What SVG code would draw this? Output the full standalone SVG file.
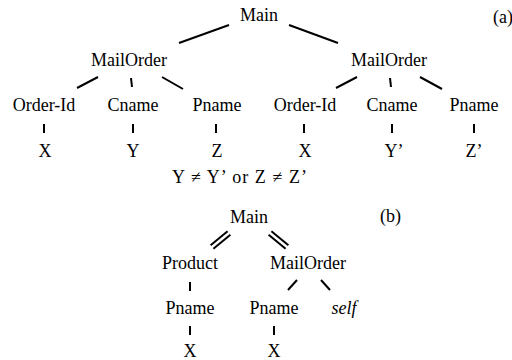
<svg xmlns="http://www.w3.org/2000/svg" width="512" height="360" viewBox="0 0 512 360">
<style>
text{font-family:'Liberation Serif','Times New Roman',Times,'DejaVu Serif',serif;font-size:18px;fill:#000;text-anchor:middle}
.l{text-anchor:start}
.it{font-style:italic}
#connectors line{stroke:#000;stroke-width:2;stroke-linecap:butt}
</style>
<rect width="512" height="360" fill="#fff"/>
<g id="connectors">
<line x1="179" y1="43" x2="229" y2="25"/>
<line x1="289" y1="25" x2="338" y2="43"/>
<line x1="77" y1="88" x2="98" y2="77"/>
<line x1="131" y1="78" x2="132" y2="87"/>
<line x1="162" y1="77" x2="183" y2="89"/>
<line x1="336" y1="88" x2="357" y2="77"/>
<line x1="390" y1="78" x2="391" y2="87"/>
<line x1="420" y1="77" x2="442" y2="89"/>
<line x1="44" y1="124" x2="44" y2="133"/>
<line x1="133" y1="124" x2="133" y2="133"/>
<line x1="216" y1="124" x2="216" y2="133"/>
<line x1="304" y1="124" x2="304" y2="133"/>
<line x1="392" y1="124" x2="392" y2="133"/>
<line x1="474" y1="124" x2="474" y2="133"/>
<line x1="210.6" y1="245.3" x2="227.6" y2="231.3"/>
<line x1="213.4" y1="248.7" x2="230.4" y2="234.7"/>
<line x1="268.6" y1="234.7" x2="285.6" y2="248.7"/>
<line x1="271.4" y1="231.3" x2="288.4" y2="245.3"/>
<line x1="190" y1="282" x2="190" y2="291"/>
<line x1="288" y1="290" x2="297" y2="280"/>
<line x1="321" y1="280" x2="330" y2="290"/>
<line x1="190" y1="326" x2="190" y2="335"/>
<line x1="274" y1="326" x2="274" y2="335"/>
</g>
<g id="a-main"><text x="259" y="21">Main</text></g>
<g id="a-label"><text class="l" x="493" y="23">(a)</text></g>
<g id="a-mailorder1"><text x="129" y="66">MailOrder</text></g>
<g id="a-mailorder2"><text x="389" y="66">MailOrder</text></g>
<g id="a-orderid1"><text x="44" y="111">Order-Id</text></g>
<g id="a-cname1"><text x="133" y="111">Cname</text></g>
<g id="a-pname1"><text x="217" y="111">Pname</text></g>
<g id="a-orderid2"><text x="305" y="111">Order-Id</text></g>
<g id="a-cname2"><text x="392" y="111">Cname</text></g>
<g id="a-pname2"><text x="474" y="111">Pname</text></g>
<g id="a-x1"><text x="45" y="157">X</text></g>
<g id="a-y1"><text x="133" y="157">Y</text></g>
<g id="a-z1"><text x="217" y="157">Z</text></g>
<g id="a-x2"><text x="305" y="157">X</text></g>
<g id="a-y2"><text x="394" y="157">Y’</text></g>
<g id="a-z2"><text x="474" y="157">Z’</text></g>
<g id="a-cond"><text class="l" x="172" y="183" textLength="135" lengthAdjust="spacing">Y ≠ Y’ or Z ≠ Z’</text></g>
<g id="b-main"><text x="249" y="223">Main</text></g>
<g id="b-label"><text class="l" x="380" y="222">(b)</text></g>
<g id="b-product"><text x="190" y="269">Product</text></g>
<g id="b-mailorder"><text x="308" y="269">MailOrder</text></g>
<g id="b-pname1"><text x="190" y="314">Pname</text></g>
<g id="b-pname2"><text x="274" y="314">Pname</text></g>
<g id="b-self"><text class="it" x="344" y="314">self</text></g>
<g id="b-x1"><text x="190" y="357">X</text></g>
<g id="b-x2"><text x="274" y="357">X</text></g>
</svg>
